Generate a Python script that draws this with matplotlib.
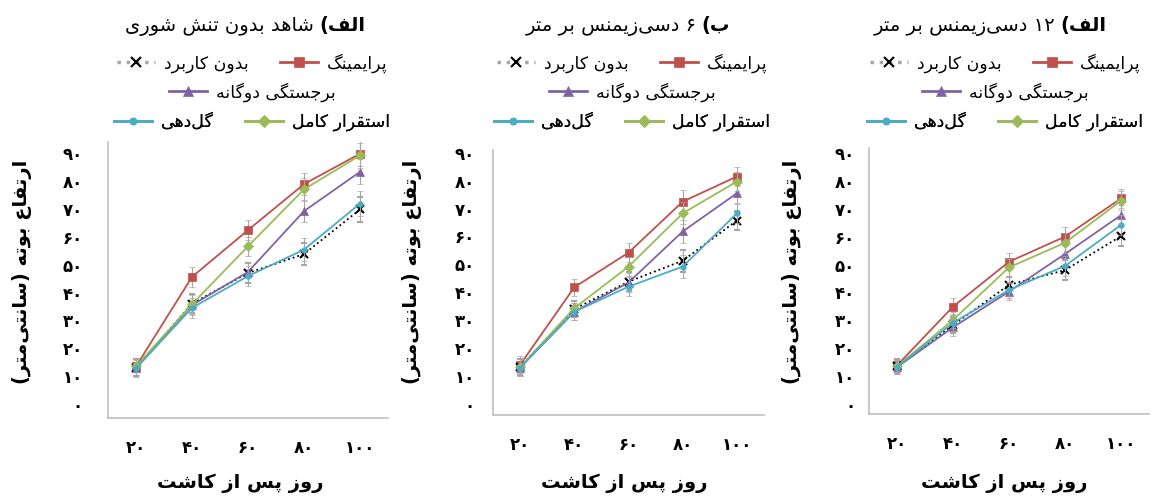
import re
import matplotlib
matplotlib.use('Agg')
import matplotlib.pyplot as plt
from matplotlib.lines import Line2D

W, H = 1155, 498

# ---- data ----
days = [20, 40, 60, 80, 100]
day_labels = ['۲۰', '۴۰', '۶۰', '۸۰', '۱۰۰']
y_ticks = [0, 10, 20, 30, 40, 50, 60, 70, 80, 90]
y_tick_labels = ['۰', '۱۰', '۲۰', '۳۰', '۴۰', '۵۰', '۶۰', '۷۰', '۸۰', '۹۰']

series_names = ['پرایمینگ', 'بدون کاربرد', 'برجستگی دوگانه', 'استقرار کامل', 'گل‌دهی']
panel_titles_bold = ['الف)', 'ب)', 'الف)']
panel_titles_rest = ['شاهد بدون تنش شوری', '۶ دسی‌زیمنس بر متر', '۱۲ دسی‌زیمنس بر متر']
y_label = 'ارتفاع بوته (سانتی‌متر)'
x_label = 'روز پس از کاشت'

# panel 1: شاهد
p1_priming = [13.5, 45.6, 62.4, 78.9, 89.8]
p1_control = [13.0, 36.0, 47.0, 53.8, 69.8]
p1_twin = [13.0, 35.5, 47.4, 69.2, 83.3]
p1_full = [13.5, 35.8, 56.6, 77.0, 89.2]
p1_flower = [12.8, 34.5, 45.9, 55.4, 71.9]
p1_err = [3.0, 3.5, 3.5, 4.0, 4.5]

# panel 2: 6 dS/m
p2_priming = [14.0, 41.8, 54.2, 72.5, 81.5]
p2_control = [13.2, 34.0, 43.8, 51.3, 65.7]
p2_twin = [13.0, 33.0, 43.5, 61.8, 75.5]
p2_full = [13.2, 34.3, 49.2, 68.3, 79.7]
p2_flower = [13.0, 33.0, 42.0, 49.2, 68.3]
p2_err = [3.0, 3.0, 3.5, 4.0, 3.5]

# panel 3: 12 dS/m
p3_priming = [13.8, 34.9, 51.0, 60.0, 73.7]
p3_control = [13.5, 28.3, 42.7, 48.0, 60.2]
p3_twin = [13.2, 27.5, 40.3, 53.8, 67.7]
p3_full = [13.5, 30.1, 49.0, 57.8, 72.9]
p3_flower = [13.3, 29.1, 40.9, 49.5, 64.2]
p3_err = [2.5, 3.0, 3.0, 3.5, 3.5]

panels = [
    [p1_priming, p1_control, p1_twin, p1_full, p1_flower],
    [p2_priming, p2_control, p2_twin, p2_full, p2_flower],
    [p3_priming, p3_control, p3_twin, p3_full, p3_flower],
]
panel_errs = [p1_err, p2_err, p3_err]

# Excel 2007 style per series
colors = ['#C0504D', '#000000', '#8064A2', '#9BBB59', '#4BACC6']
line_colors = ['#C0504D', '#000000', '#8064A2', '#9BBB59', '#4BACC6']
markers = ['s', 'x', '^', 'D', 'o']
msizes = [6, 6, 6, 5, 4]
lstyles = ['-', ':', '-', '-', '-']

# ---- simple Persian shaping (no arabic_reshaper available) ----
FORMS = {
    'ا': ('\uFE8D', '\uFE8E', None, None),
    'ب': ('\uFE8F', '\uFE90', '\uFE91', '\uFE92'),
    'پ': ('\uFB56', '\uFB57', '\uFB58', '\uFB59'),
    'ت': ('\uFE95', '\uFE96', '\uFE97', '\uFE98'),
    'ج': ('\uFE9D', '\uFE9E', '\uFE9F', '\uFEA0'),
    'د': ('\uFEA9', '\uFEAA', None, None),
    'ر': ('\uFEAD', '\uFEAE', None, None),
    'ز': ('\uFEAF', '\uFEB0', None, None),
    'س': ('\uFEB1', '\uFEB2', '\uFEB3', '\uFEB4'),
    'ش': ('\uFEB5', '\uFEB6', '\uFEB7', '\uFEB8'),
    'ع': ('\uFEC9', '\uFECA', '\uFECB', '\uFECC'),
    'ف': ('\uFED1', '\uFED2', '\uFED3', '\uFED4'),
    'ق': ('\uFED5', '\uFED6', '\uFED7', '\uFED8'),
    'ک': ('\uFB8E', '\uFB8F', '\uFB90', '\uFB91'),
    'گ': ('\uFB92', '\uFB93', '\uFB94', '\uFB95'),
    'ل': ('\uFEDD', '\uFEDE', '\uFEDF', '\uFEE0'),
    'م': ('\uFEE1', '\uFEE2', '\uFEE3', '\uFEE4'),
    'ن': ('\uFEE5', '\uFEE6', '\uFEE7', '\uFEE8'),
    'و': ('\uFEED', '\uFEEE', None, None),
    'ه': ('\uFEE9', '\uFEEA', '\uFEEB', '\uFEEC'),
    'ی': ('\uFBFC', '\uFBFD', '\uFBFE', '\uFBFF'),
}


def fa(text):
    out = []
    for i, c in enumerate(text):
        if c not in FORMS:
            out.append(c)
            continue
        prev = text[i - 1] if i > 0 else ''
        nxt = text[i + 1] if i + 1 < len(text) else ''
        iso, fin, ini, med = FORMS[c]
        join_prev = prev in FORMS and FORMS[prev][2] is not None
        join_next = nxt in FORMS and ini is not None
        if join_prev and join_next:
            out.append(med)
        elif join_prev:
            out.append(fin)
        elif join_next:
            out.append(ini)
        else:
            out.append(iso)
    s = ''.join(out).replace('\u200c', '')
    tokens = re.findall(r'[0-9۰-۹]+|[^0-9۰-۹]', s)
    tokens.reverse()
    mirror = {'(': ')', ')': '('}
    return ''.join(mirror.get(t, t) for t in tokens)


plt.rcParams['font.family'] = ['DejaVu Sans']

fig = plt.figure(figsize=(W / 100, H / 100), dpi=100)

# axes boxes in pixels: left, top, width, bottom ; y-limits
boxes = [(108, 142, 280, 418), (493, 150, 271, 415), (869, 148, 280, 414)]
ylims = [(-5, 94), (-4, 91), (-3.6, 91.8)]
ytick_pads = [18, 13, 10]
ylabel_x = [32, 422, 802]
xlabel_x = [240, 624, 1004]
title_cx = [245, 628, 990]
legend_cx = [252, 632, 1005]

axes = []
for k in range(3):
    l, t, w, b = boxes[k]
    ax = fig.add_axes([l / W, 1 - b / H, w / W, (b - t) / H])
    axes.append(ax)
    data = panels[k]
    for j in range(len(series_names)):
        ax.errorbar(days, data[j], yerr=panel_errs[k], color=line_colors[j],
                    ecolor='#A6A6A6', elinewidth=0.8, capsize=2, capthick=0.8,
                    linestyle=lstyles[j], linewidth=1.3,
                    marker=markers[j], markersize=msizes[j],
                    markerfacecolor=colors[j], markeredgecolor=colors[j],
                    markeredgewidth=1.5 if markers[j] == 'x' else 0.5,
                    zorder=3 + j)
    ax.set_xlim(10, 110)
    ax.set_ylim(*ylims[k])
    ax.set_xticks(days)
    ax.set_xticklabels(day_labels, fontsize=12, fontweight='bold')
    ax.set_yticks(y_ticks)
    ax.set_yticklabels(y_tick_labels, fontsize=12, fontweight='bold')
    ax.tick_params(axis='both', length=0)
    ax.tick_params(axis='x', pad=15)
    ax.tick_params(axis='y', pad=ytick_pads[k])
    for side in ['top', 'right']:
        ax.spines[side].set_visible(False)
    for side in ['left', 'bottom']:
        ax.spines[side].set_color('#BFBFBF')
        ax.spines[side].set_linewidth(1.2)

    ax.set_ylabel(fa(y_label), fontsize=14, fontweight='bold')
    ax.yaxis.set_label_coords(ylabel_x[k] / W, 1 - 272 / H, transform=fig.transFigure)
    ax.set_xlabel(fa(x_label), fontsize=14, fontweight='bold')
    ax.xaxis.set_label_coords(xlabel_x[k] / W, 1 - 483 / H, transform=fig.transFigure)
    ax.xaxis.label.set_va('center')

    # legend rows, right-to-left order
    handles = []
    for j in range(len(series_names)):
        handles.append(Line2D([], [], color='#A6A6A6' if markers[j] == 'x' else line_colors[j],
                              linestyle=lstyles[j], linewidth=2.5 if markers[j] == 'x' else 2,
                              marker=markers[j], markersize=msizes[j] + 1,
                              markerfacecolor=colors[j], markeredgecolor=colors[j],
                              markeredgewidth=1.5 if markers[j] == 'x' else 0.5))
    rows = [([1, 0], 63), ([2], 92), ([4, 3], 122)]
    for idx, cy in rows:
        leg = ax.legend([handles[i] for i in idx], [fa(series_names[i]) for i in idx],
                        loc='center', bbox_to_anchor=(legend_cx[k] / W, 1 - cy / H),
                        bbox_transform=fig.transFigure, ncol=len(idx), frameon=False,
                        fontsize=12.5, handlelength=2.2, handletextpad=0.5,
                        columnspacing=1.8, borderpad=0, borderaxespad=0)
        ax.add_artist(leg)

# titles: bold part on the right, regular part on the left
fig.canvas.draw()
renderer = fig.canvas.get_renderer()
for k in range(3):
    tb = fig.text(0, 1 - 26 / H, fa(panel_titles_bold[k]), fontsize=14,
                  fontweight='bold', va='center', ha='left')
    tr = fig.text(0, 1 - 26 / H, fa(panel_titles_rest[k]), fontsize=14,
                  va='center', ha='left')
    wb = tb.get_window_extent(renderer).width
    wr = tr.get_window_extent(renderer).width
    gap = 5
    x0 = title_cx[k] - (wb + wr + gap) / 2
    tr.set_x(x0 / W)
    tb.set_x((x0 + wr + gap) / W)

fig.savefig('out.png', dpi=100)
